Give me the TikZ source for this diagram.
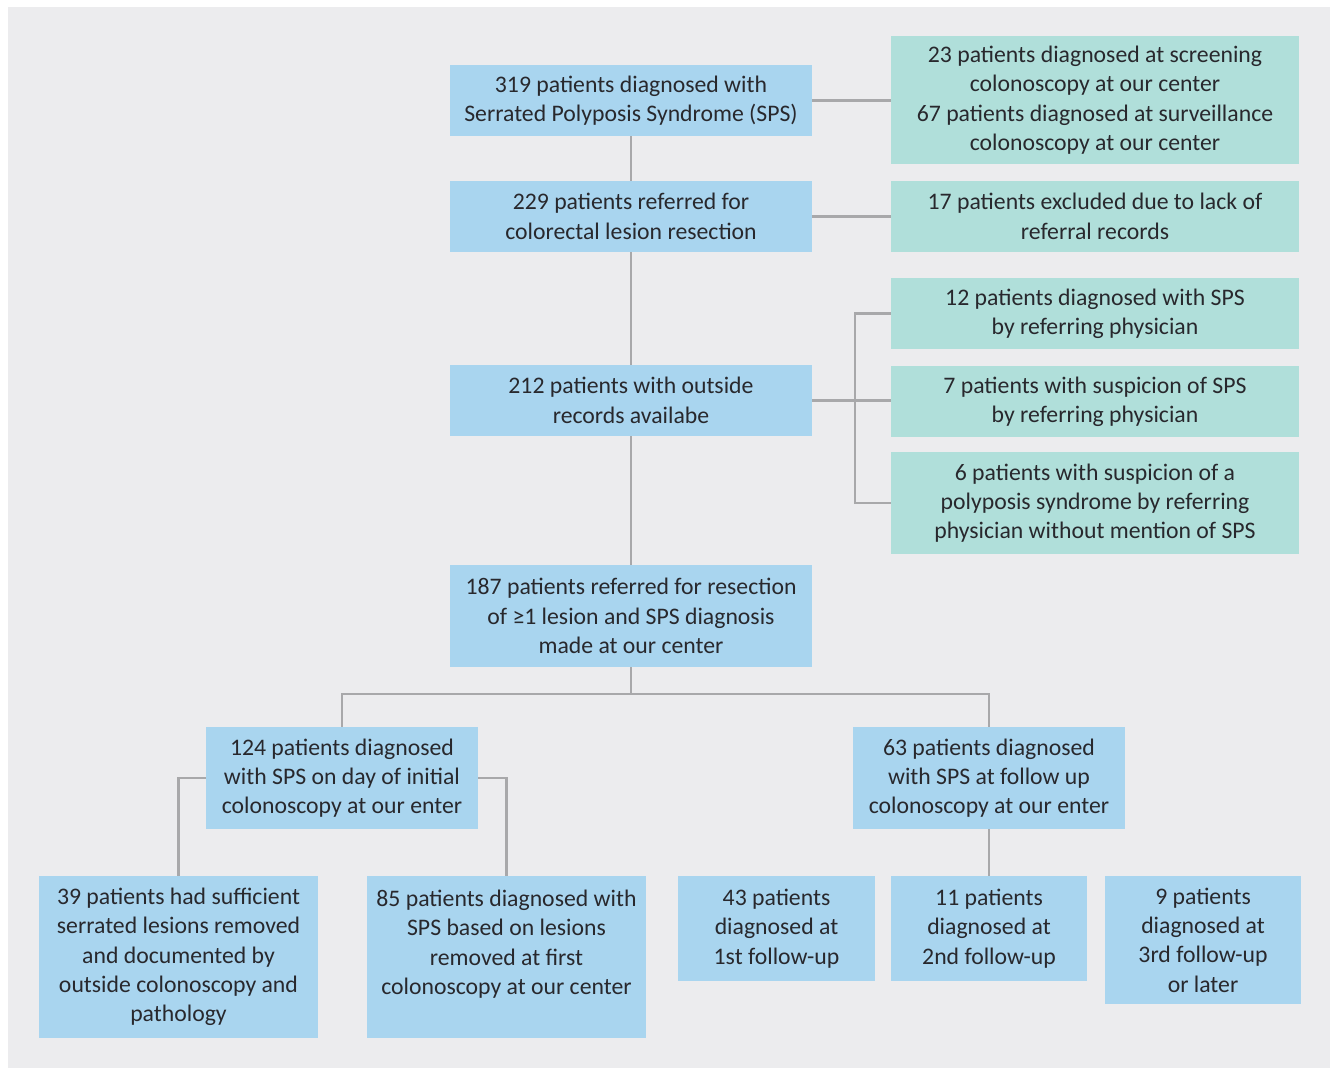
\documentclass[tikz,border=0pt]{standalone}
\usepackage{fontspec}
\setmainfont{Carlito}
\definecolor{bgcol}{RGB}{236,236,238}
\definecolor{bluebox}{RGB}{169,213,239}
\definecolor{greenbox}{RGB}{176,223,218}
\definecolor{linecol}{RGB}{168,168,170}
\definecolor{txtcol}{RGB}{40,40,45}
\begin{document}
\begin{tikzpicture}[x=0.75pt,y=-0.75pt,
  box/.style={rectangle,inner sep=0pt,align=center,text=txtcol,
    font=\fontsize{17.8}{22}\selectfont},
  bbox/.style={box,fill=bluebox},
  gbox/.style={box,fill=greenbox},
  conn/.style={draw=linecol,line width=2.2pt}]
\useasboundingbox (0,0) rectangle (1330,1068);
\fill[bgcol] (8,7) rectangle (1330,1068);

\node[bbox,minimum width=271.5pt,minimum height=53.25pt] (A) at (631,100.5)
  {319 patients diagnosed with\\Serrated Polyposis Syndrome (SPS)};
\node[gbox,minimum width=306pt,minimum height=96pt] (R1) at (1095,100)
  {23 patients diagnosed at screening\\colonoscopy at our center\\67 patients diagnosed at surveillance\\colonoscopy at our center};
\node[bbox,minimum width=271.5pt,minimum height=53.25pt] (B) at (631,216.5)
  {229 patients referred for\\colorectal lesion resection};
\node[gbox,minimum width=306pt,minimum height=53.25pt] (R2) at (1095,216.5)
  {17 patients excluded due to lack of\\referral records};
\node[gbox,minimum width=306pt,minimum height=53.25pt] (R3) at (1095,313.5)
  {12 patients diagnosed with SPS\\by referring physician};
\node[gbox,minimum width=306pt,minimum height=53.25pt] (R4) at (1095,401.5)
  {7 patients with suspicion of SPS\\by referring physician};
\node[gbox,minimum width=306pt,minimum height=76.5pt] (R5) at (1095,503)
  {6 patients with suspicion of a\\polyposis syndrome by referring\\physician without mention of SPS};
\node[bbox,minimum width=271.5pt,minimum height=53.25pt] (C) at (631,400.5)
  {212 patients with outside\\records availabe};
\node[bbox,minimum width=271.5pt,minimum height=76.5pt] (D) at (631,616)
  {187 patients referred for resection\\of ≥1 lesion and SPS diagnosis\\made at our center};
\node[bbox,minimum width=204pt,minimum height=76.5pt] (E) at (342,778)
  {124 patients diagnosed\\with SPS on day of initial\\colonoscopy at our enter};
\node[bbox,minimum width=204pt,minimum height=76.5pt] (F) at (989,778)
  {63 patients diagnosed\\with SPS at follow up\\colonoscopy at our enter};
\node[bbox,minimum width=209.25pt,minimum height=121.5pt] (G) at (178.5,957)
  {39 patients had sufficient\\serrated lesions removed\\and documented by\\outside colonoscopy and\\pathology};
\node[bbox,minimum width=209.25pt,minimum height=121.5pt] (H) at (506.5,957)
  {85 patients diagnosed with\\SPS based on lesions\\removed at first\\colonoscopy at our center\\\mbox{}};
\node[bbox,minimum width=147.75pt,minimum height=78.75pt] (I) at (776.5,928.5)
  {43 patients\\diagnosed at\\1st follow-up};
\node[bbox,minimum width=147pt,minimum height=78.75pt] (J) at (989,928.5)
  {11 patients\\diagnosed at\\2nd follow-up};
\node[bbox,minimum width=147pt,minimum height=96pt] (K) at (1203,940)
  {9 patients\\diagnosed at\\3rd follow-up\\or later};

\coordinate (br) at (855,401);
\coordinate (split) at (631,694);

\draw[conn] (A.south) -- (B.north);
\draw[conn] (A.east) -- (A.east -| R1.west);
\draw[conn] (B.east) -- (B.east -| R2.west);
\draw[conn] (B.south) -- (C.north);
\draw[conn] (C.east) -- (C.east -| R4.west);
\draw[conn] (R3.west) -| (br) |- (R5.west);
\draw[conn] (C.south) -- (D.north);
\draw[conn] (D.south) -- (split);
\draw[conn] (E.north) |- (split) -| (F.north);
\draw[conn] (E.west) -| (G.north);
\draw[conn] (E.east) -| (H.north);
\draw[conn] (F.south) -- (J.north);
\end{tikzpicture}
\end{document}
